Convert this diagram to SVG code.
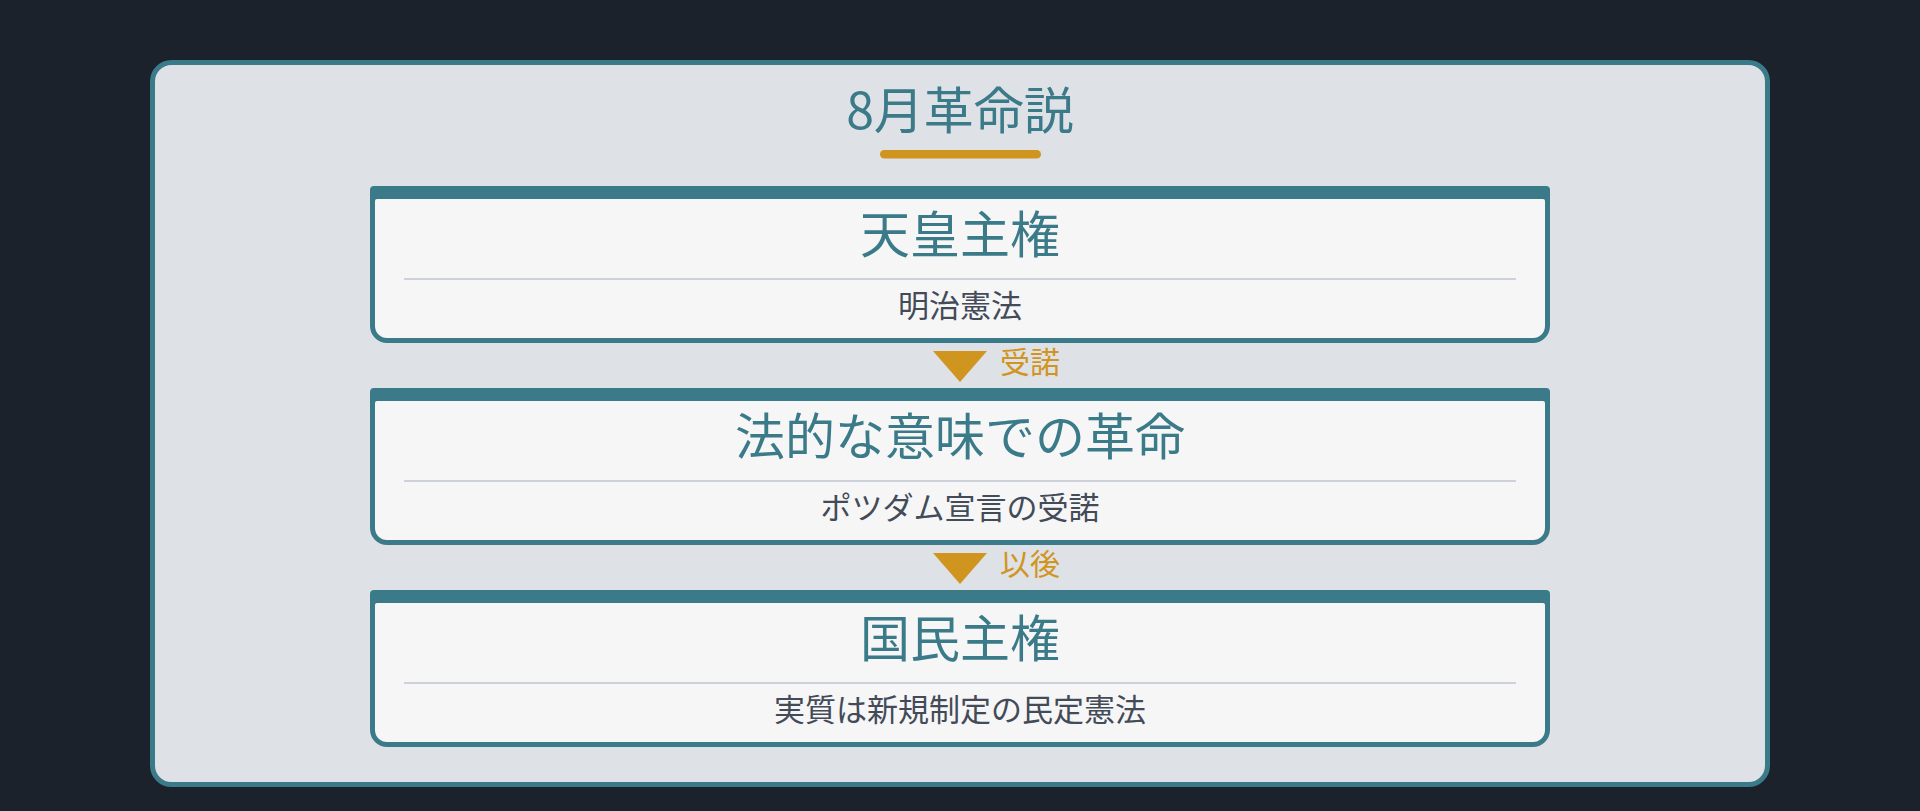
<svg xmlns="http://www.w3.org/2000/svg" width="1920" height="811" viewBox="0 0 1920 811">
  <style>
    .jp { font-family: "Noto Sans CJK JP", "Noto Sans", sans-serif; }
    .title { font-size: 50px; fill: #3a7a89; text-anchor: middle; }
    .ctitle { font-size: 50px; fill: #3a7a89; text-anchor: middle; }
    .csub { font-size: 31px; fill: #434b58; text-anchor: middle; }
    .lbl { font-size: 30px; fill: #d0951f; }
    .cardOuter { fill: #3a7a89; }
    .cardInner { fill: #f6f6f6; }
    .divider { stroke: #cdd1dc; stroke-width: 2; }
    .arrowHead { fill: #d0951f; }
  </style>
  <defs>
    <g id="card">
      <path class="cardOuter" d="M374,0 H1546 A4,4 0 0 1 1550,4 V140 A17,17 0 0 1 1533,157 H387 A17,17 0 0 1 370,140 V4 A4,4 0 0 1 374,0 Z"/>
      <path class="cardInner" d="M377,13 H1543 A2,2 0 0 1 1545,15 V140 A12,12 0 0 1 1533,152 H387 A12,12 0 0 1 375,140 V15 A2,2 0 0 1 377,13 Z"/>
      <line class="divider" x1="404" y1="93" x2="1516" y2="93"/>
    </g>
  </defs>
  <rect x="0" y="0" width="1920" height="811" fill="#1c222c"/>
  <g id="frame">
    <rect x="152.5" y="62.5" width="1615" height="722" rx="19" ry="19" fill="#dee1e6" stroke="#3a7a89" stroke-width="5"/>
    <text class="jp title" x="960" y="129">8月革命説</text>
    <rect x="880" y="150" width="161" height="8.5" rx="4.25" fill="#d0951f"/>
  </g>
  <g id="node-tenno">
    <use href="#card" transform="translate(0,186)"/>
    <text class="jp ctitle" x="960" y="253">天皇主権</text>
    <text class="jp csub" x="960" y="317">明治憲法</text>
  </g>
  <g id="node-kakumei">
    <use href="#card" transform="translate(0,388)"/>
    <text class="jp ctitle" x="960" y="455">法的な意味での革命</text>
    <text class="jp csub" x="960" y="519">ポツダム宣言の受諾</text>
  </g>
  <g id="node-kokumin">
    <use href="#card" transform="translate(0,590)"/>
    <text class="jp ctitle" x="960" y="657">国民主権</text>
    <text class="jp csub" x="960" y="721">実質は新規制定の民定憲法</text>
  </g>
  <g id="connectors">
    <polygon class="arrowHead" points="933,351 987,351 960,382"/>
    <text class="jp lbl" x="1000" y="373">受諾</text>
    <polygon class="arrowHead" points="933,553 987,553 960,584"/>
    <text class="jp lbl" x="1000" y="575">以後</text>
  </g>
</svg>
